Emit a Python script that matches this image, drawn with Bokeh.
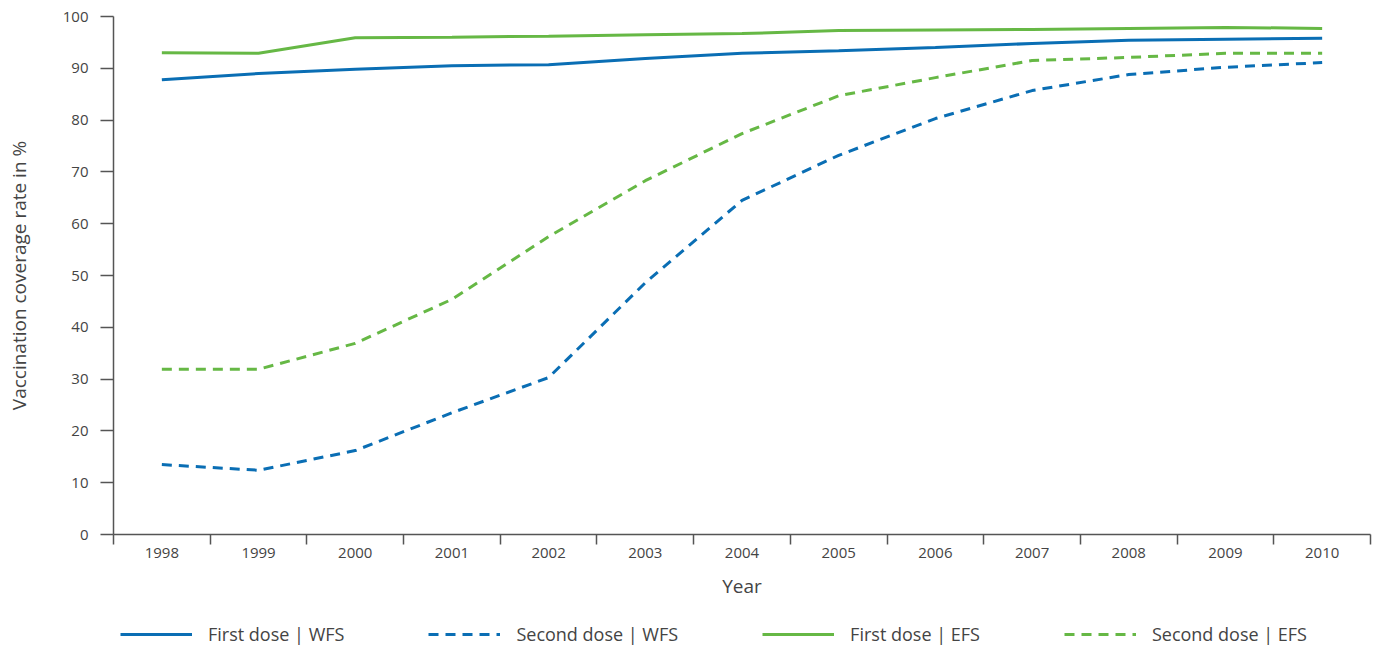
from bokeh.plotting import figure
from bokeh.layouts import column
from bokeh.models import FixedTicker, Legend, LegendItem, Range1d
from bokeh.embed import file_html
from bokeh.resources import INLINE

years = [1998, 1999, 2000, 2001, 2002, 2003, 2004, 2005, 2006, 2007, 2008, 2009, 2010]
first_wfs = [87.8, 89.0, 89.8, 90.5, 90.7, 91.9, 92.9, 93.4, 94.0, 94.8, 95.4, 95.6, 95.8]
first_efs = [93.0, 92.9, 95.9, 96.0, 96.2, 96.5, 96.7, 97.3, 97.4, 97.5, 97.7, 97.9, 97.7]
second_wfs = [13.5, 12.4, 16.2, 23.5, 30.3, 48.6, 64.5, 73.2, 80.3, 85.7, 88.8, 90.2, 91.1]
second_efs = [31.9, 31.9, 36.9, 45.4, 57.5, 68.3, 77.4, 84.7, 88.2, 91.5, 92.1, 92.9, 92.9]
y_ticks = [0, 10, 20, 30, 40, 50, 60, 70, 80, 90, 100]
series_labels = ["First dose | WFS", "Second dose | WFS", "First dose | EFS", "Second dose | EFS"]

BLUE = "#0a6eb4"
GREEN = "#66b845"
TXT = "#444444"
AX = "#555555"
FONT = "Open Sans"
DASH = "10 7"

series = [first_wfs, second_wfs, first_efs, second_efs]
styles = [(BLUE, "solid"), (BLUE, DASH), (GREEN, "solid"), (GREEN, DASH)]

p = figure(width=1375, height=610, output_backend="svg", toolbar_location=None,
           x_range=Range1d(years[0] - 0.5, years[-1] + 0.5), y_range=Range1d(0, 100),
           min_border_left=113, min_border_right=5, min_border_top=16, min_border_bottom=76)
p.outline_line_color = None
p.xgrid.grid_line_color = None
p.ygrid.grid_line_color = None

for vals, (col, dash) in zip(series, styles):
    p.line(years, vals, line_color=col, line_width=3, line_dash=dash)

xa = p.xaxis[0]
xa.ticker = FixedTicker(ticks=years, minor_ticks=[y - 0.5 for y in years] + [years[-1] + 0.5])
xa.major_tick_out = 0
xa.major_tick_in = 0
xa.minor_tick_out = 10
xa.minor_tick_in = 0
xa.minor_tick_line_color = AX
xa.minor_tick_line_width = 1.5
xa.axis_line_color = AX
xa.axis_line_width = 1.5
xa.major_label_text_font = FONT
xa.major_label_text_font_size = "15px"
xa.major_label_text_color = TXT
xa.major_label_standoff = 3
xa.axis_label = "Year"
xa.axis_label_text_font = FONT
xa.axis_label_text_font_size = "19px"
xa.axis_label_text_font_style = "normal"
xa.axis_label_text_color = TXT
xa.axis_label_standoff = 12

ya = p.yaxis[0]
ya.ticker = FixedTicker(ticks=y_ticks)
ya.minor_tick_line_color = None
ya.major_tick_out = 13
ya.major_tick_in = 0
ya.major_tick_line_color = AX
ya.major_tick_line_width = 1.5
ya.axis_line_color = AX
ya.axis_line_width = 1.5
ya.major_label_text_font = FONT
ya.major_label_text_font_size = "15px"
ya.major_label_text_color = TXT
ya.major_label_standoff = 12
ya.axis_label = "Vaccination coverage rate in %"
ya.axis_label_text_font = FONT
ya.axis_label_text_font_size = "19px"
ya.axis_label_text_font_style = "normal"
ya.axis_label_text_color = TXT
ya.axis_label_standoff = 28

# legend strip below the chart (series drawn out of view so only the legend shows)
lg = figure(width=1375, height=36, output_backend="svg", toolbar_location=None,
            x_axis_type=None, y_axis_type=None, min_border=0,
            x_range=Range1d(0, 1), y_range=Range1d(0, 1))
lg.outline_line_color = None
lg.xgrid.grid_line_color = None
lg.ygrid.grid_line_color = None
items = []
for lab, vals, (col, dash) in zip(series_labels, series, styles):
    r = lg.line(years, vals, line_color=col, line_width=3, line_dash=dash)
    items.append(LegendItem(label=lab, renderers=[r]))

legend = Legend(items=items, orientation="horizontal", location=(7, 0))
legend.glyph_width = 72
legend.glyph_height = 18
legend.label_standoff = 16
legend.spacing = 84
legend.padding = 0
legend.margin = 0
legend.border_line_alpha = 0
legend.background_fill_alpha = 0
legend.label_text_font = FONT
legend.label_text_font_size = "18px"
legend.label_text_color = TXT
lg.add_layout(legend, "center")

layout = column(p, lg, spacing=0)
open("out.html", "w").write(file_html(layout, INLINE))
